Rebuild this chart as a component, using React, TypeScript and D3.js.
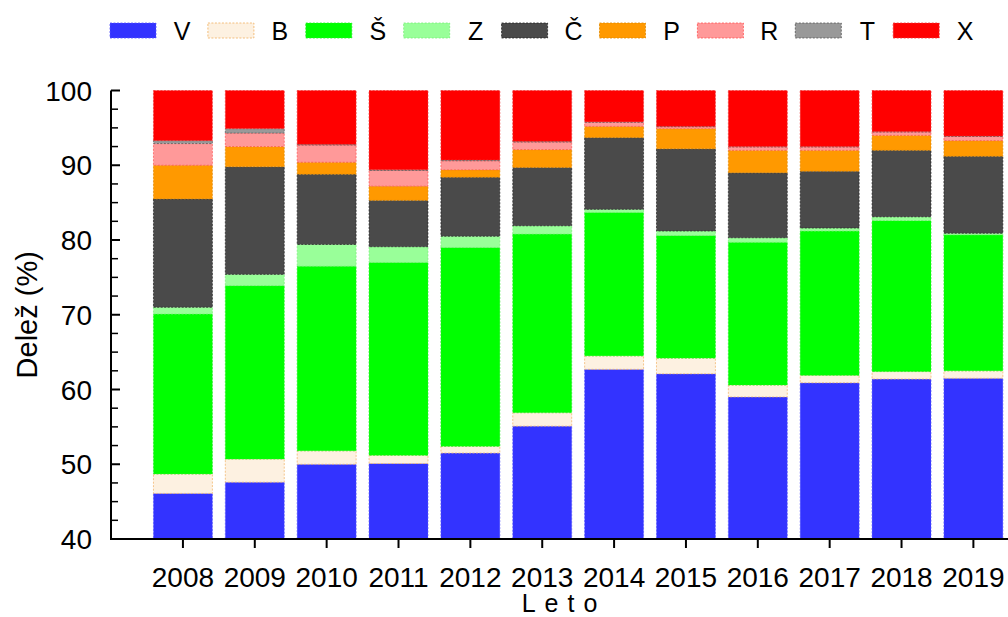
import React from "react";
import * as d3 from "d3";

const years = ["2008", "2009", "2010", "2011", "2012", "2013", "2014", "2015", "2016", "2017", "2018", "2019"];
const V = [46.1, 47.6, 50.0, 50.1, 51.5, 55.1, 62.7, 62.1, 59.0, 60.9, 61.4, 61.5];
const B = [2.6, 3.1, 1.8, 1.1, 0.9, 1.8, 1.8, 2.1, 1.6, 1.0, 1.0, 1.0];
const S = [21.4, 23.2, 24.7, 25.8, 26.6, 23.9, 19.2, 16.4, 19.1, 19.3, 20.2, 18.2];
const Z = [0.9, 1.5, 2.9, 2.1, 1.5, 1.1, 0.4, 0.6, 0.6, 0.4, 0.5, 0.2];
const C = [14.5, 14.4, 9.4, 6.2, 7.9, 7.8, 9.6, 11.0, 8.7, 7.6, 8.9, 10.3];
const P = [4.5, 2.7, 1.6, 1.9, 1.0, 2.4, 1.5, 2.7, 3.0, 2.8, 2.0, 2.1];
const R = [2.9, 1.8, 2.3, 2.1, 1.2, 1.0, 0.55, 0.25, 0.45, 0.45, 0.45, 0.55];
const T = [0.4, 0.6, 0.1, 0.1, 0.1, 0.1, 0.05, 0.05, 0.05, 0.05, 0.05, 0.05];
const X = [6.7, 5.1, 7.2, 10.6, 9.3, 6.8, 4.2, 4.8, 7.5, 7.5, 5.5, 6.1];

const seriesNames = ["V", "B", "Š", "Z", "Č", "P", "R", "T", "X"];
const seriesValues = [V, B, S, Z, C, P, R, T, X];
const yTicks = [40, 50, 60, 70, 80, 90, 100];

const fills = ["#3333FF", "#FDF1E1", "#00FF00", "#99FF99", "#4A4A4A", "#FF9900", "#FF9999", "#999999", "#FF0000"];
const strokes = ["#5555FF", "#F0B060", "#22EE22", "#77EE77", "#222222", "#E08800", "#FF5050", "#555555", "#EE3333"];

const FONT = "'Liberation Sans', Arial, Helvetica, sans-serif";

export default function App() {
  const width = 1008;
  const height = 617;
  const axisX = 111;
  const x = d3
    .scaleBand<string>()
    .domain(years)
    .range([147, 147 + 12 * 71.86])
    .paddingInner(0.18)
    .paddingOuter(0.09);
  const y = d3.scaleLinear().domain([40, 100]).range([539, 90.5]).clamp(true);

  const rows = years.map((yr, i) => {
    const o: any = { year: yr };
    seriesNames.forEach((k, j) => (o[k] = seriesValues[j][i]));
    return o;
  });
  const stacked = d3.stack<any>().keys(seriesNames)(rows);

  const minorTicks = d3.range(40, 100.01, 2.5).filter((v) => v % 10 !== 0);

  return (
    <svg
      width={width}
      height={height}
      style={{ position: "absolute", left: 0, top: 0, display: "block", background: "#fff" }}
      fontFamily={FONT}
    >
      {/* bars */}
      {stacked.map((layer, si) => (
        <g key={seriesNames[si]}>
          {layer.map((d, i) => {
            const y0 = y(d[0]);
            const y1 = y(d[1]);
            const h = y0 - y1;
            if (h <= 0) return null;
            return (
              <rect
                key={years[i]}
                x={x(years[i])}
                y={y1}
                width={x.bandwidth()}
                height={h}
                fill={fills[si]}
                stroke={strokes[si]}
                strokeWidth={0.7}
                strokeDasharray="2,1.5"
              />
            );
          })}
        </g>
      ))}

      {/* y axis */}
      <line x1={axisX} x2={axisX} y1={y(40)} y2={y(100)} stroke="#000" strokeWidth={2} />
      {yTicks.map((t) => (
        <g key={t}>
          <line x1={axisX} x2={axisX + 9} y1={y(t)} y2={y(t)} stroke="#000" strokeWidth={2} />
          <text x={92} y={y(t)} dy="0.36em" textAnchor="end" fontSize={28} fill="#000">
            {t}
          </text>
        </g>
      ))}
      {minorTicks.map((t) => (
        <line key={t} x1={axisX} x2={axisX + 7} y1={y(t)} y2={y(t)} stroke="#000" strokeWidth={1.5} />
      ))}
      <text
        transform={`translate(37, ${(y(40) + y(100)) / 2}) rotate(-90)`}
        textAnchor="middle"
        fontSize={29}
        fill="#000"
      >
        Delež (%)
      </text>

      {/* x axis */}
      <line x1={axisX - 1} x2={width} y1={y(40)} y2={y(40)} stroke="#000" strokeWidth={2} />
      {years.map((yr) => {
        const cx = (x(yr) as number) + x.bandwidth() / 2;
        return (
          <g key={yr}>
            <line x1={cx} x2={cx} y1={y(40)} y2={y(40) + 9} stroke="#000" strokeWidth={2} />
            <text x={cx} y={587} textAnchor="middle" fontSize={28} fill="#000">
              {yr}
            </text>
          </g>
        );
      })}
      <text x={564} y={612} textAnchor="middle" fontSize={25} fill="#000" letterSpacing={9}>
        Leto
      </text>

      {/* legend */}
      {seriesNames.map((k, i) => {
        const lx = 110 + i * 97.9;
        return (
          <g key={k}>
            <rect
              x={lx}
              y={23}
              width={46}
              height={15}
              fill={fills[i]}
              stroke={strokes[i]}
              strokeWidth={0.8}
              strokeDasharray="2,1.5"
            />
            <text x={lx + 72} y={30.5} dy="0.36em" textAnchor="middle" fontSize={25} fill="#000">
              {k}
            </text>
          </g>
        );
      })}
    </svg>
  );
}
